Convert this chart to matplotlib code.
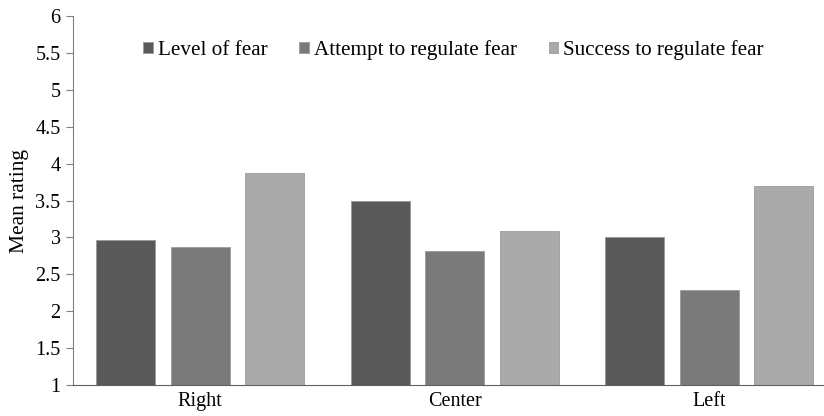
import matplotlib
matplotlib.use("Agg")
import matplotlib.pyplot as plt
import numpy as np

categories = ["Right", "Center", "Left"]
series_names = ["Level of fear", "Attempt to regulate fear", "Success to regulate fear"]
level_of_fear = [2.97, 3.50, 3.00]
attempt_regulate = [2.87, 2.81, 2.29]
success_regulate = [3.87, 3.08, 3.69]
yticks = [1, 1.5, 2, 2.5, 3, 3.5, 4, 4.5, 5, 5.5, 6]
ytick_labels = ["1", "1.5", "2", "2.5", "3", "3.5", "4", "4.5", "5", "5.5", "6"]

colors = ["#595959", "#7a7a7a", "#aaaaaa"]
plt.rcParams['font.family'] = ['Liberation Serif', 'DejaVu Serif']

fig = plt.figure(figsize=(8.24, 4.16), dpi=100)
ax = fig.add_axes([73/824, 1-385/416, (836.5-73)/824, (385-16)/416])

x = np.arange(len(categories))
width = 0.232
offsets = [-0.293, 0.0, 0.293]
handles = []
for vals, off, c, name in zip([level_of_fear, attempt_regulate, success_regulate], offsets, colors, series_names):
    b = ax.bar(x + off, np.array(vals) - 1, bottom=1, width=width, color=c,
               edgecolor="#9a9a9a", linewidth=0.6, label=name)
    handles.append(b)

ax.set_xlim(-0.5, 2.5)
ax.set_ylim(1, 6)
ax.set_yticks(yticks)
ax.set_yticklabels(ytick_labels, fontsize=14.5)
ax.set_xticks(x)
ax.set_xticklabels(categories, fontsize=14.5)
ax.tick_params(axis='x', length=0, pad=5)
ax.tick_params(axis='y', length=5, direction='out', color="#808080", pad=4)
for s in ["top", "right"]:
    ax.spines[s].set_visible(False)
ax.spines["left"].set_color("#808080")
ax.spines["bottom"].set_color("#606060")
ax.set_ylabel("Mean rating", fontsize=15.5)
ax.yaxis.set_label_coords((29-73)/763, 0.5)

fig.legend(handles=handles, loc="center left", bbox_to_anchor=(143/824, 1-50/416), ncol=3,
           frameon=False, fontsize=15.2, handlelength=0.47, handleheight=0.47,
           handletextpad=0.23, columnspacing=1.5, borderpad=0, borderaxespad=0)

fig.savefig("out.png", dpi=100)
